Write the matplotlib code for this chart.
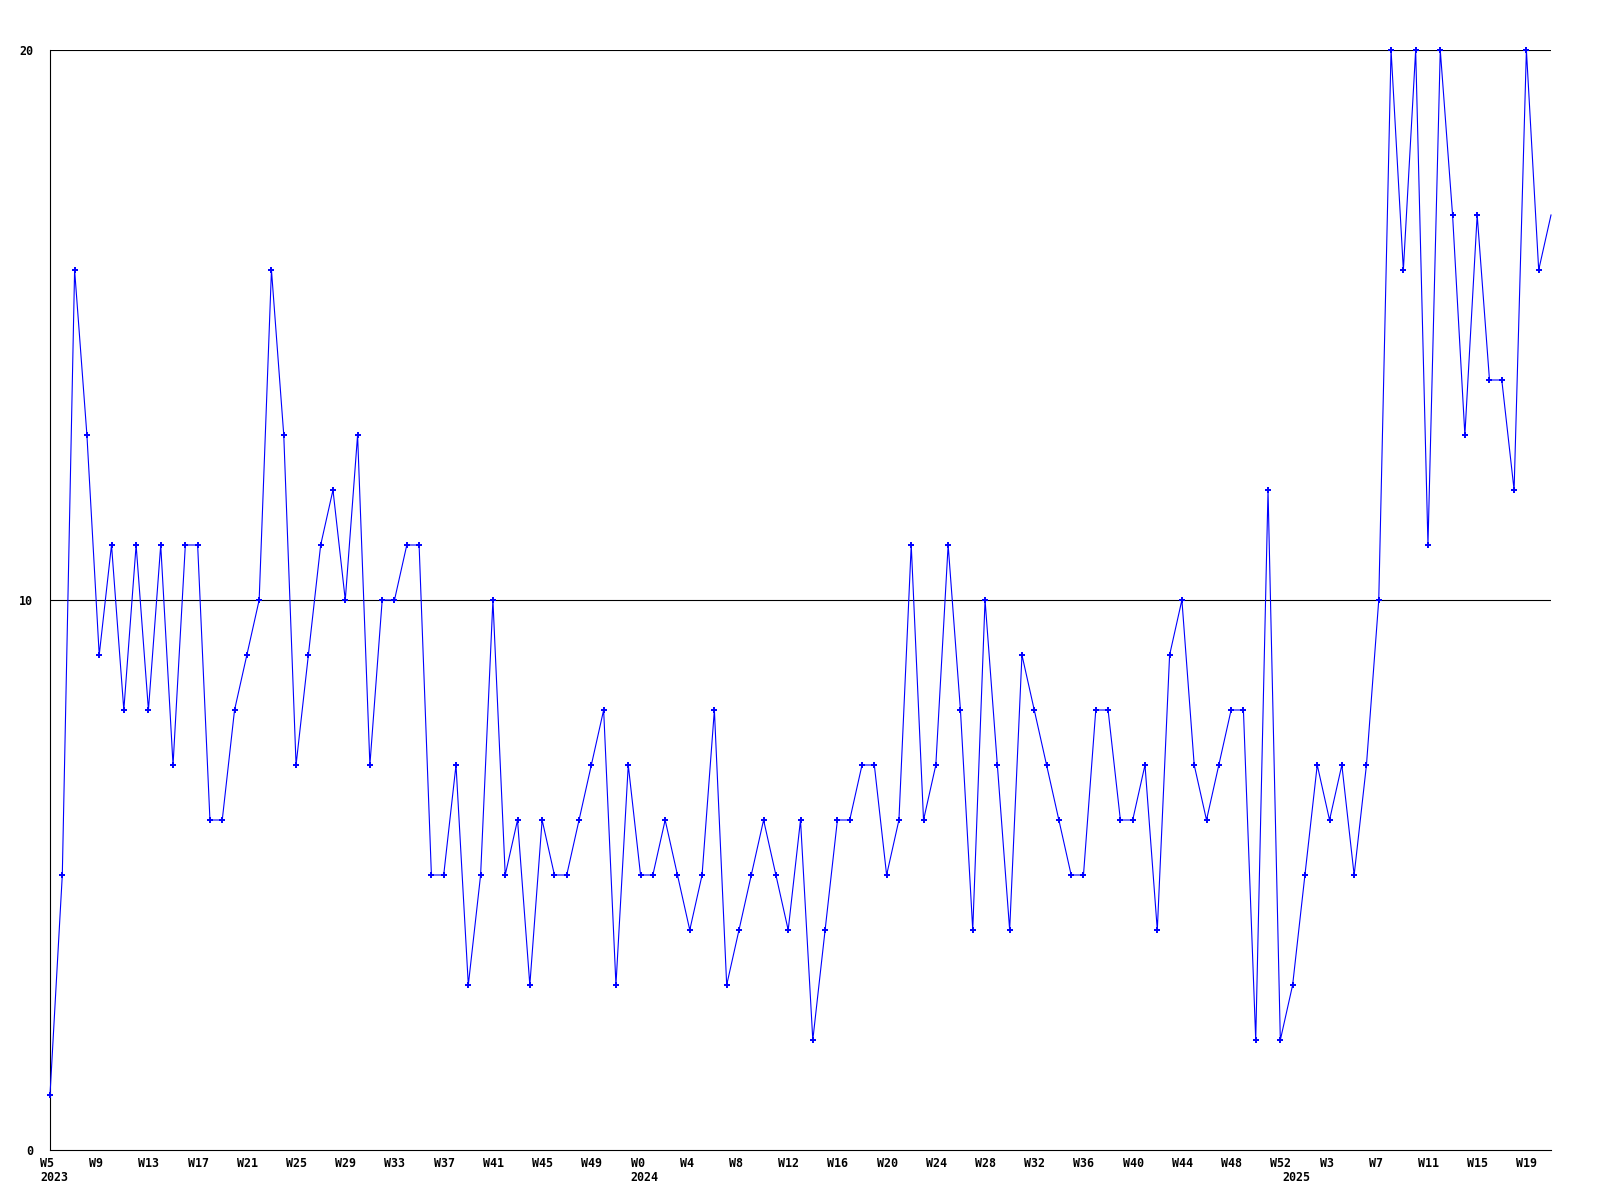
import matplotlib
matplotlib.use("Agg")
import matplotlib.pyplot as plt
import matplotlib.transforms as mtransforms

# Weekly counts, 2023 W5 .. 2025 W21
counts = [
    1, 5, 16, 13, 9, 11, 8, 11, 8, 11, 7, 11, 11, 6, 6, 8, 9, 10, 16, 13,
    7, 9, 11, 12, 10, 13, 7, 10, 10, 11, 11, 5, 5, 7, 3, 5, 10, 5, 6, 3,
    6, 5, 5, 6, 7, 8, 3, 7, 5, 5, 6, 5, 4, 5, 8, 3, 4, 5, 6, 5,
    4, 6, 2, 4, 6, 6, 7, 7, 5, 6, 11, 6, 7, 11, 8, 4, 10, 7, 4, 9,
    8, 7, 6, 5, 5, 8, 8, 6, 6, 7, 4, 9, 10, 7, 6, 7, 8, 8, 2, 12,
    2, 3, 5, 7, 6, 7, 5, 7, 10, 20, 16, 20, 11, 20, 17, 13, 17, 14, 14, 12,
    20, 16, 17,
]

# tick labels every 4 weeks
week_labels = [
    "W5", "W9", "W13", "W17", "W21", "W25", "W29", "W33", "W37", "W41", "W45", "W49",
    "W0", "W4", "W8", "W12", "W16", "W20", "W24", "W28", "W32", "W36", "W40", "W44",
    "W48", "W52", "W3", "W7", "W11", "W15", "W19",
]
tick_idx = list(range(0, 4 * len(week_labels), 4))

# year labels and the week index where each year starts
years = ["2023", "2024", "2025"]
year_idx = [0, 48, 101]

y_ticks = [0, 10, 20]

font = {"family": "DejaVu Sans Mono", "weight": "bold", "size": 8.4}

fig = plt.figure(figsize=(16, 12), dpi=100)
ax = fig.add_axes([50 / 1600, 1 - 1150 / 1200, 1501 / 1600, 1100 / 1200])

x = list(range(len(counts)))
ax.plot(x, counts, color="#0000ff", linewidth=0.8, marker="+", markersize=4.5,
        markeredgewidth=1.4, markevery=list(range(len(counts) - 1)),
        clip_on=False, zorder=3)

ax.set_xlim(0, len(counts) - 1)
ax.set_ylim(0, 20)

# horizontal lines at 10 and 20
for yv in y_ticks[1:]:
    ax.axhline(yv, color="black", linewidth=0.8, zorder=1)

for side in ["top", "right"]:
    ax.spines[side].set_visible(False)
for side in ["left", "bottom"]:
    ax.spines[side].set_linewidth(0.8)

ax.set_yticks(y_ticks)
ax.set_yticklabels([str(v) for v in y_ticks], fontdict=font)
ax.set_xticks(tick_idx)
ax.set_xticklabels(week_labels, fontdict=font, ha="left")
ax.tick_params(axis="both", length=0)
ax.tick_params(axis="y", pad=12)
ax.tick_params(axis="x", pad=5)

# shift week labels a little to the left of their tick
shift = mtransforms.ScaledTranslation(-10 / 100, 0, fig.dpi_scale_trans)
for lbl in ax.get_xticklabels():
    lbl.set_transform(lbl.get_transform() + shift)

for yr, idx in zip(years, year_idx):
    ax.annotate(yr, xy=(idx, 0), xycoords=("data", "axes fraction"),
                xytext=(-10 * 0.72, -21 * 0.72), textcoords="offset points",
                ha="left", va="top", **font)

fig.savefig("out.png", dpi=100, facecolor="white")
